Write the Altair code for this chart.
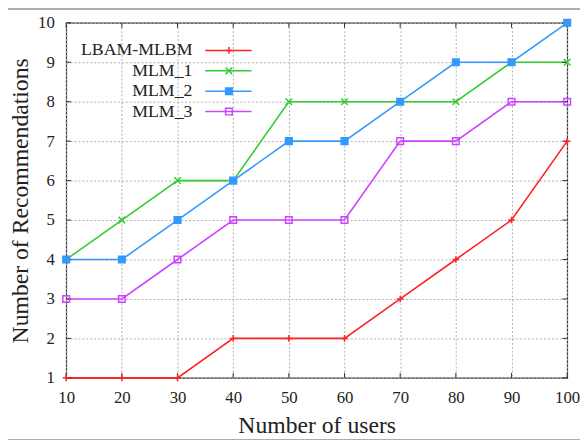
import altair as alt
import pandas as pd

users = [10, 20, 30, 40, 50, 60, 70, 80, 90, 100]
y_ticks = [1, 2, 3, 4, 5, 6, 7, 8, 9, 10]
series_names = ["LBAM-MLBM", "MLM_1", "MLM_2", "MLM_3"]
lbam_mlbm = [1, 1, 1, 2, 2, 2, 3, 4, 5, 7]
mlm_1 = [4, 5, 6, 6, 8, 8, 8, 8, 9, 9]
mlm_2 = [4, 4, 5, 6, 7, 7, 8, 9, 9, 10]
mlm_3 = [3, 3, 4, 5, 5, 5, 7, 7, 8, 8]

colors = ["#ff2222", "#33cc33", "#3399ff", "#cc44ff"]
shapes = ["M-1,0H1M0,-1V1", "M-1,-1L1,1M-1,1L1,-1", "square", "square"]
fills = ["transparent", "transparent", "#3399ff", "transparent"]

rows = []
for name, vals in zip(series_names, [lbam_mlbm, mlm_1, mlm_2, mlm_3]):
    for u, v in zip(users, vals):
        rows.append({"users": u, "value": v, "series": name})
df = pd.DataFrame(rows)
legend_df = pd.DataFrame({"series": series_names})
xt = pd.DataFrame({"users": users})
yt = pd.DataFrame({"value": y_ticks})

W, H = 508, 360
FONT = "Liberation Serif"

xs = alt.Scale(domain=[10, 100], nice=False, zero=False)
ys = alt.Scale(domain=[1, 10], nice=False, zero=False)
cs = alt.Scale(domain=series_names, range=colors)
ss = alt.Scale(domain=series_names, range=shapes)
fs = alt.Scale(domain=series_names, range=fills)

x_axis = alt.Axis(values=users, title="Number of users", grid=True, gridColor="#b0b0b0",
                  gridDash=[2, 2], domain=False, ticks=False, labelPadding=12,
                  labelOverlap=False, labelFlush=False,
                  labelFontSize=17, labelFont=FONT, labelColor="#222",
                  titleFont=FONT, titleFontSize=24, titleFontWeight="normal", titleColor="#222",
                  titleX=254, titleY=48, titleBaseline="middle")
y_axis = alt.Axis(values=y_ticks, title="Number of Recommendations", grid=True, gridColor="#b0b0b0",
                  gridDash=[2, 2], domain=False, ticks=False, labelPadding=12,
                  labelOverlap=False, labelFlush=False,
                  labelFontSize=17, labelFont=FONT, labelColor="#222",
                  titleFont=FONT, titleFontSize=24, titleFontWeight="normal", titleColor="#222",
                  titleX=-46, titleY=180, titleBaseline="middle", titleAngle=270)

X = alt.X("users:Q", scale=xs, axis=x_axis)
Y = alt.Y("value:Q", scale=ys, axis=y_axis)

base = alt.Chart(df)
lines = base.mark_line(strokeWidth=1.6).encode(
    x=X, y=Y, color=alt.Color("series:N", scale=cs, legend=None), detail="series:N")
points = base.mark_point(filled=False, strokeWidth=1.5, size=45, opacity=1).encode(
    x=X, y=Y,
    color=alt.Color("series:N", scale=cs, legend=None),
    shape=alt.Shape("series:N", scale=ss, legend=None),
    fill=alt.Fill("series:N", scale=fs, legend=None))

tick_col = "#333"
xt_bottom = alt.Chart(xt).mark_rule(color=tick_col).encode(
    x=X, y=alt.value(H), y2=alt.value(H - 5))
xt_top = alt.Chart(xt).mark_rule(color=tick_col).encode(
    x=X, y=alt.value(0), y2=alt.value(5))
yt_left = alt.Chart(yt).mark_rule(color=tick_col).encode(
    y=Y, x=alt.value(0), x2=alt.value(5))
yt_right = alt.Chart(yt).mark_rule(color=tick_col).encode(
    y=Y, x=alt.value(W), x2=alt.value(W - 5))

main = alt.layer(lines, xt_bottom, xt_top, yt_left, yt_right, points)

ly = alt.Y("series:N", scale=alt.Scale(type="point", domain=series_names, range=[28, 90], padding=0), axis=None)
lchart = alt.Chart(legend_df)
leg_text = lchart.mark_text(align="right", baseline="middle", font=FONT, fontSize=18, color="#222").encode(
    x=alt.value(128), y=ly, text="series:N")
leg_line = lchart.mark_rule(strokeWidth=1.6).encode(
    x=alt.value(141), x2=alt.value(188), y=ly, color=alt.Color("series:N", scale=cs, legend=None))
leg_pt = lchart.mark_point(filled=False, strokeWidth=1.5, size=45, opacity=1).encode(
    x=alt.value(165), y=ly,
    color=alt.Color("series:N", scale=cs, legend=None),
    shape=alt.Shape("series:N", scale=ss, legend=None),
    fill=alt.Fill("series:N", scale=fs, legend=None))
legend = alt.layer(leg_text, leg_line, leg_pt)

frame = alt.Chart(legend_df).mark_rect(filled=False, stroke="#a8a8a8", strokeWidth=1.2).encode(
    x=alt.value(-62), x2=alt.value(530), y=alt.value(-14), y2=alt.value(423))
shadow = alt.Chart(legend_df).mark_rule(stroke="#777", strokeWidth=2.5).encode(
    x=alt.value(-60), x2=alt.value(530), y=alt.value(425))

chart = alt.layer(frame, shadow, main, legend).resolve_scale(y="independent").properties(
    width=W, height=H,
    autosize=alt.AutoSizeParams(type="none"),
    padding={"left": 59, "top": 12, "right": 13, "bottom": 60},
    background="white",
).configure_view(stroke="#333", strokeWidth=1.2)

chart.save("out.html", embed_options={"renderer": "svg", "actions": False})
